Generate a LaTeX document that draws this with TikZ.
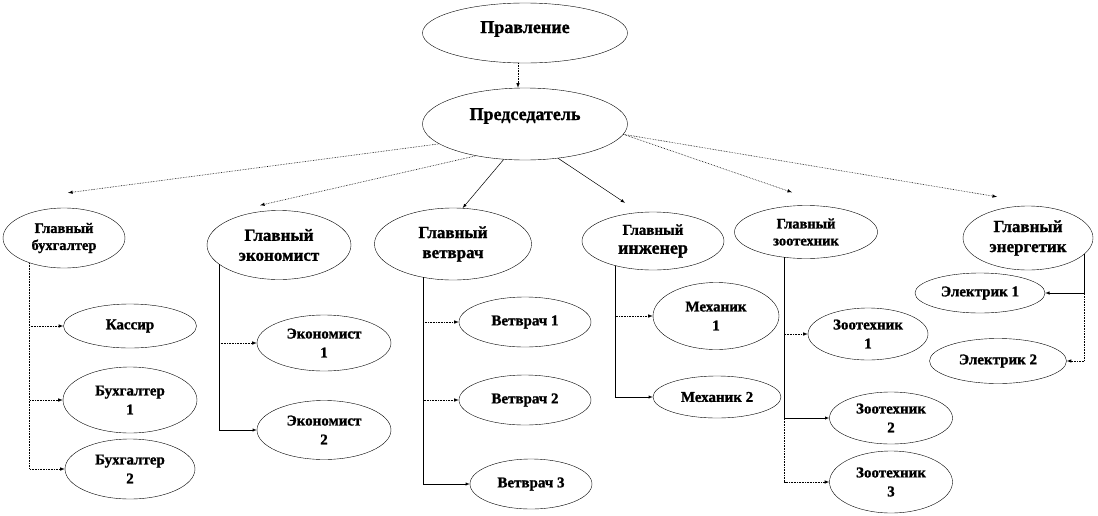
\documentclass[tikz,border=0pt]{standalone}
\usepackage{fontspec}
\setmainfont{Liberation Serif}[BoldFeatures={FakeBold=1.2}]
\usetikzlibrary{shapes.geometric,positioning}

\begin{document}
\begin{tikzpicture}[x=1pt, y=-1pt, thin,
unit/.style ={ ellipse, draw, align=center, inner sep=0pt,
font=\bfseries\fontsize{15}{19}\selectfont},
dims/.style 2 args ={minimum width=#1pt, minimum height=#2pt},
top/.style ={font=\bfseries\fontsize{18}{20}\selectfont},
big/.style ={font=\bfseries\fontsize{17}{20}\selectfont},
small/.style ={font=\bfseries\fontsize{14.5}{17}\selectfont},
link/.style ={-latex, densely dotted, line width=0.6pt},
solidlink/.style ={-latex, line width=0.5pt}]
\useasboundingbox (0,0) rectangle (1098,515);

\node[unit, top, dims={205}{60}] (Board) at (525,33) {\raisebox{0pt}[0pt][0pt]{Правление}};
\node[unit, top, dims={205}{72}] (Chairman) at (525,124) {\raisebox{4pt}[0pt][0pt]{Председатель}};

% chiefs
\node[unit, small, dims={122}{60}] (ChiefAccountant) at (64,238) {Главный\\бухгалтер};
\node[unit, big, dims={144}{69}] (ChiefEconomist) at (279,245) {Главный\\экономист};
\node[unit, big, dims={157}{72}] (ChiefVet) at (453,244) {Главный\\ветврач};
\node[unit, dims={142}{58}] (ChiefEngineer) at (653,241) {{\fontsize{15}{17}\selectfont Главный}\\{\fontsize{18}{20}\selectfont инженер}};
\node[unit, small, dims={143}{53}] (ChiefZoo) at (806,232) {Главный\\зоотехник};
\node[unit, big, dims={130}{64}] (ChiefPower) at (1028,238) {Главный\\энергетик};

% staff
\node[unit, dims={133}{44}] (Cashier) at (130,326) {Кассир};
\node[unit, dims={134}{66}] (Accountant1) at (130,400) {Бухгалтер\\1};
\node[unit, dims={130}{60}] (Accountant2) at (130,469) {Бухгалтер\\2};
\node[unit, dims={134}{56}] (Economist1) at (324,343) {Экономист\\1};
\node[unit, dims={134}{59}] (Economist2) at (324,430) {Экономист\\2};
\node[unit, dims={132}{50}] (Vet1) at (525,322) {Ветврач 1};
\node[unit, dims={132}{50}] (Vet2) at (525,400) {Ветврач 2};
\node[unit, dims={122}{50}] (Vet3) at (531,484) {Ветврач 3};
\node[unit, dims={126}{67}] (Mechanic1) at (716,316) {Механик\\1};
\node[unit, dims={128}{42}] (Mechanic2) at (717,397) {Механик 2};
\node[unit, dims={120}{52}] (Zoo1) at (868,334) {Зоотехник\\1};
\node[unit, dims={123}{52}] (Zoo2) at (891,418) {Зоотехник\\2};
\node[unit, dims={123}{62}] (Zoo3) at (891,482) {Зоотехник\\3};
\node[unit, dims={130}{40}] (Electric1) at (980,293) {Электрик 1};
\node[unit, dims={137}{45}] (Electric2) at (998,361) {Электрик 2};

\draw[link] ([xshift=-7pt]Board.south) -- ([xshift=-7pt]Chairman.north);

\draw[link] (Chairman.193.7) -- ([xshift=4pt,yshift=15pt]ChiefAccountant.north);
\draw[link] (Chairman.213.2) -- ([xshift=-19pt,yshift=5pt]ChiefEconomist.north);
\draw[solidlink] (Chairman.239.5) -- (ChiefVet.75);
\draw[solidlink] (Chairman.314.2) -- ([xshift=-28pt,yshift=9pt]ChiefEngineer.north);
\draw[link] (Chairman.354.3) -- ([xshift=-14pt,yshift=13pt]ChiefZoo.north);
\draw[link] (Chairman.354.3) -- ([xshift=-31pt,yshift=9pt]ChiefPower.north);

\draw[link] (ChiefAccountant.216.2) |- (Cashier.west);
\draw[link] (ChiefAccountant.216.2) |- (Accountant1.west);
\draw[link] (ChiefAccountant.216.2) |- (Accountant2.west);

\draw[link] (ChiefEconomist.198.5) |- (Economist1.west);
\draw[solidlink] (ChiefEconomist.198.5) |- (Economist2.west);

\draw[solidlink] (ChiefVet.228) |- (Vet3.west);
\draw[link] (ChiefVet.228) |- (Vet1.west);
\draw[link] (ChiefVet.228) |- (Vet2.west);

\draw[solidlink] (ChiefEngineer.213.7) |- (Mechanic2.west);
\draw[link] (ChiefEngineer.213.7) |- (Mechanic1.west);

\draw[solidlink] (ChiefZoo.230.3) |- (Zoo2.west);
\draw[link] (ChiefZoo.230.3) |- (Zoo1.west);
\draw[link] (ChiefZoo.230.3) |- (Zoo3.west);

\draw[link] (ChiefPower.344.9) |- (Electric2.east);
\draw[solidlink] (ChiefPower.344.9) |- (Electric1.east);
\end{tikzpicture}
\end{document}
